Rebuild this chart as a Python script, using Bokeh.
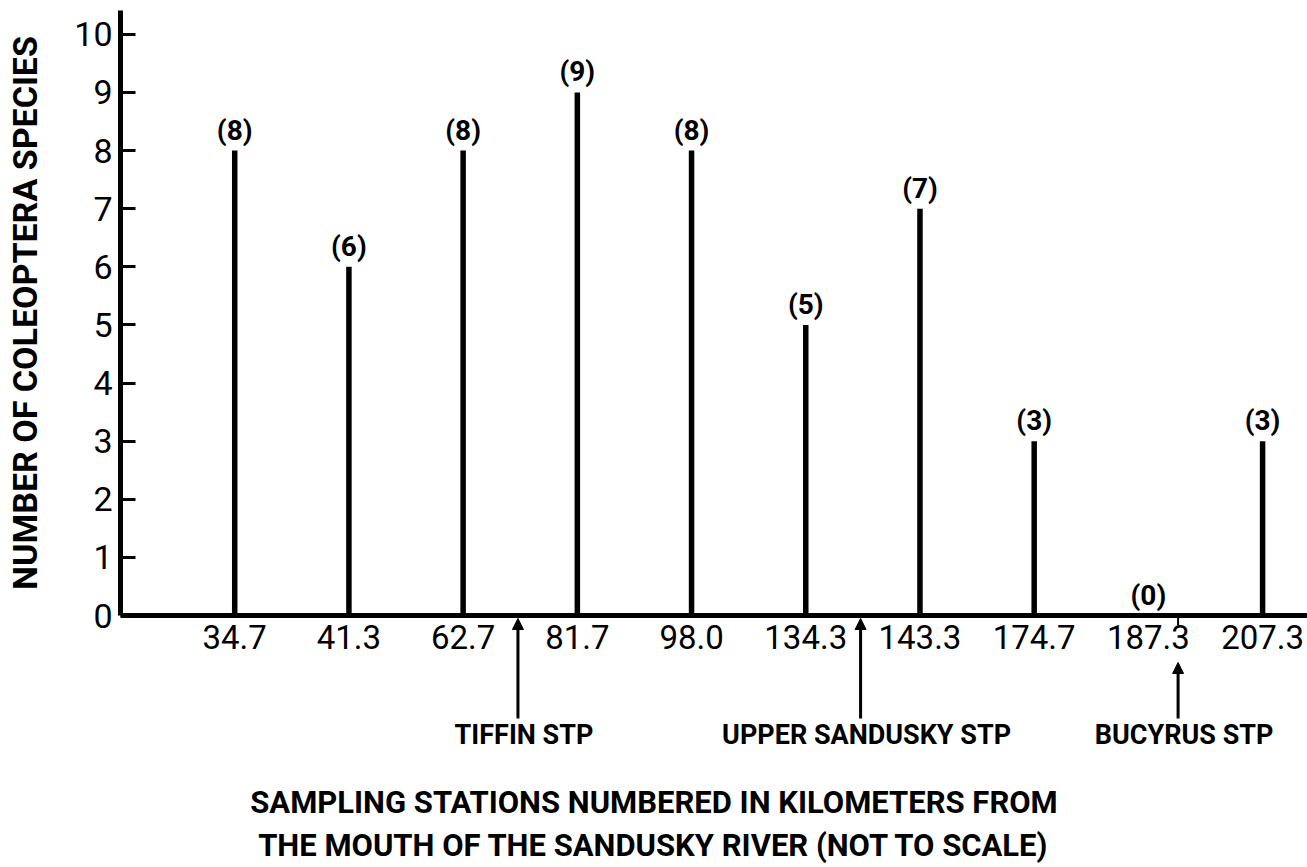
from bokeh.plotting import figure
from bokeh.models import (Range1d, FixedTicker, Arrow, NormalHead, Label)
from bokeh.core.properties import value
from bokeh.embed import file_html
from bokeh.resources import INLINE

# Coleoptera species counts at Sandusky River sampling stations
stations = ["34.7", "41.3", "62.7", "81.7", "98.0",
            "134.3", "143.3", "174.7", "187.3", "207.3"]
species = [8, 6, 8, 9, 8, 5, 7, 3, 0, 3]
species_labels = ["(%d)" % n for n in species]
y_ticks = list(range(0, 11))

# sewage treatment plants, placed between station slots (slot index units)
stp_names = ["TIFFIN STP", "UPPER SANDUSKY STP", "BUCYRUS STP"]
stp_slot = [2.48, 5.48, 8.26]

title_lines = ["SAMPLING STATIONS NUMBERED IN KILOMETERS FROM",
               "THE MOUTH OF THE SANDUSKY RIVER (NOT TO SCALE)"]
y_title = "NUMBER OF COLEOPTERA SPECIES"

FONT = "Roboto"
W, H = 1307, 867

# pixel geometry of the plotting area inside the full canvas
AXIS_PX_X = 120      # y axis line
BASE_PX_Y = 615      # x axis line
X_PPU = 114.21       # pixels per station slot
Y_PPU = 58.12        # pixels per species
AXIS_X = -1.0        # y axis sits one slot left of the first station
Y_TOP = 10.41        # top end of the y axis line

x_start = AXIS_X - AXIS_PX_X / X_PPU
x_end = x_start + W / X_PPU
y_start = -(H - BASE_PX_Y) / Y_PPU
y_end = y_start + H / Y_PPU


def dx(px):
    return x_start + px / X_PPU


def dy(py):
    return (BASE_PX_Y - py) / Y_PPU


slots = list(range(len(stations)))

p = figure(width=W, height=H, x_range=Range1d(x_start, x_end),
           y_range=Range1d(y_start, y_end),
           output_backend="svg", toolbar_location=None,
           min_border=0)
p.outline_line_color = None
p.xgrid.visible = False
p.ygrid.visible = False
p.background_fill_color = "white"
p.border_fill_color = "white"

# y axis, drawn at a fixed data location inside the canvas
ya = p.yaxis[0]
ya.fixed_location = AXIS_X
ya.bounds = (0, Y_TOP)
ya.ticker = FixedTicker(ticks=y_ticks)
ya.major_tick_in = 15
ya.major_tick_out = 0
ya.major_tick_line_width = 3
ya.minor_tick_line_color = None
ya.axis_line_width = 5
ya.major_label_text_font = FONT
ya.major_label_text_font_size = "34px"
ya.major_label_standoff = 8
ya.axis_label = y_title
ya.axis_label_text_font = FONT
ya.axis_label_text_font_size = "34px"
ya.axis_label_text_font_style = "bold"
ya.axis_label_standoff = 26
ya.major_label_text_color = "black"
ya.axis_label_text_color = "black"

# x axis with station labels
xa = p.xaxis[0]
xa.fixed_location = 0
xa.bounds = (AXIS_X, x_end)
xa.ticker = FixedTicker(ticks=slots)
xa.major_label_overrides = {i: s for i, s in zip(slots, stations)}
xa.major_tick_in = 0
xa.major_tick_out = 0
xa.minor_tick_line_color = None
xa.axis_line_width = 5
xa.major_label_text_font = FONT
xa.major_label_text_font_size = "33px"
xa.major_label_standoff = 9
xa.major_label_text_color = "black"

# vertical bars
p.segment(x0=slots, y0=[0] * len(slots), x1=slots, y1=species,
          line_width=5.5, line_color="black", line_cap="butt")

# value labels above each bar
p.text(x=slots, y=species, text=species_labels, text_align="center",
       text_baseline="bottom", y_offset=-4, text_font=value(FONT),
       text_font_size="28px", text_font_style="bold", text_color="black")

# STP arrows and labels
arrow_top = [dy(618), dy(618), dy(662)]
arrow_bottom = dy(718)
for name, pos, top in zip(stp_names, stp_slot, arrow_top):
    p.add_layout(Arrow(end=NormalHead(size=11, fill_color="black", line_color="black"),
                       x_start=pos, y_start=arrow_bottom, x_end=pos, y_end=top,
                       line_width=3, line_color="black"))
    p.add_layout(Label(x=pos, y=dy(734), text=name, text_align="center",
                       text_baseline="middle", x_offset=6, text_font=FONT,
                       text_font_size="27px", text_font_style="bold",
                       text_color="black"))

# small mark on the axis at the Bucyrus outfall
p.add_layout(Arrow(end=None, x_start=stp_slot[2], y_start=0,
                   x_end=stp_slot[2], y_end=dy(625), line_width=2,
                   line_color="black"))

# two-line x title
for line, py in zip(title_lines, [802, 845]):
    p.add_layout(Label(x=dx(W / 2), y=dy(py), text=line, text_align="center",
                       text_baseline="middle", text_font=FONT,
                       text_font_size="31px", text_font_style="bold",
                       text_color="black"))

open("out.html", "w").write(file_html(p, INLINE))
